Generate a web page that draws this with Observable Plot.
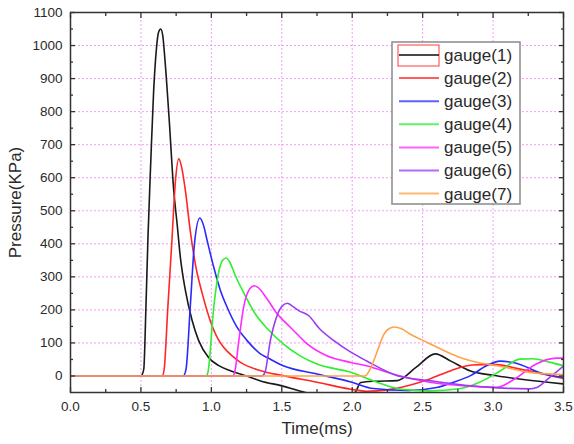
<!DOCTYPE html>
<html><head><meta charset="utf-8">
<script src="https://cdn.jsdelivr.net/npm/d3@7"></script>
<script src="https://cdn.jsdelivr.net/npm/@observablehq/plot@0.6"></script>
<style>
body{margin:0;background:#fff;}
#chart{position:relative;width:574px;height:444px;}
</style>
</head><body><div id="chart"></div>
<script>
const gaugeNames = ["gauge(1)","gauge(2)","gauge(3)","gauge(4)","gauge(5)","gauge(6)","gauge(7)"];
const gaugeColors = ["#1a1a1a","#ff2626","#2a2aff","#2ef02e","#ff2bff","#9a3cf2","#ffa24a"];

const g1Time = [0,0.50,0.52,0.535,0.55,0.57,0.59,0.61,0.625,0.64,0.655,0.67,0.70,0.733,0.757,0.78,0.816,0.864,0.91,0.98,1.05,1.135,1.25,1.35,1.5,1.65,1.8,1.95,2.02,2.06,2.15,2.32,2.45,2.59,2.7,2.84,3.0,3.2,3.5];
const g1Pressure = [0,0,20,200,420,650,860,990,1040,1050,1030,960,780,561,460,359,258,167,107,56,32,16,0,-15,-30,-48,-60,-60,-50,-20,-16,-14,25,67,45,15,2,-10,-24];

const g2Time = [0,0.65,0.665,0.69,0.72,0.745,0.769,0.79,0.816,0.85,0.89,0.935,0.994,1.05,1.087,1.15,1.207,1.35,1.51,1.75,1.99,2.1,2.25,2.4,2.55,2.7,2.85,3.0,3.2,3.5];
const g2Pressure = [0,0,20,200,410,590,657,630,560,440,330,250,165,110,87,60,41,16,1,-19,-40,-46,-42,-29,-9,16,33,35,20,-8];

const g3Time = [0,0.80,0.82,0.85,0.88,0.918,0.945,0.97,1.017,1.065,1.112,1.183,1.254,1.348,1.40,1.51,1.75,1.99,2.15,2.4,2.6,2.72,2.84,2.95,3.05,3.15,3.36,3.5];
const g3Pressure = [0,0,20,208,400,478,455,410,329,258,208,147,107,67,55,31,6,-18,-38,-44,-35,-19,1,30,45,40,6,-4];

const g4Time = [0,0.96,0.975,1.017,1.05,1.08,1.105,1.13,1.17,1.24,1.31,1.40,1.51,1.63,1.75,1.99,2.15,2.35,2.55,2.77,2.9,3.05,3.19,3.28,3.4,3.5];
const g4Pressure = [0,0,10,208,310,350,357,345,304,243,189,142,97,61,36,11,-15,-40,-45,-38,-20,15,51,52,42,31];

const g5Time = [0,1.15,1.165,1.195,1.23,1.27,1.306,1.33,1.396,1.467,1.538,1.585,1.68,1.82,1.99,2.1,2.32,2.55,2.8,3.03,3.15,3.3,3.45,3.5];
const g5Pressure = [0,0,10,107,210,262,273,268,233,188,157,137,97,61,41,31,2,-19,-30,-34,-10,35,54,54];

const g6Time = [0,1.36,1.38,1.42,1.46,1.50,1.538,1.58,1.62,1.69,1.77,1.87,1.99,2.1,2.32,2.55,2.8,3.03,3.26,3.31,3.4,3.5];
const g6Pressure = [0,0,10,110,175,210,220,210,198,183,142,107,72,46,1,-14,-28,-36,-39,-35,-5,30];

const g7Time = [0,2.09,2.12,2.18,2.22,2.26,2.30,2.35,2.41,2.53,2.65,2.77,2.9,3.03,3.26,3.5];
const g7Pressure = [0,0,15,77,122,143,148,143,127,102,77,55,40,31,11,4];

const xMajorTicks = [0,0.5,1,1.5,2,2.5,3,3.5];
const xTickLabels = ["0.0","0.5","1.0","1.5","2.0","2.5","3.0","3.5"];
const xMinorTicks = [0.25,0.75,1.25,1.75,2.25,2.75,3.25];
const xGridTicks = [0.5,1,1.5,2,2.5,3];
const yMajorTicks = [0,100,200,300,400,500,600,700,800,900,1000,1100];
const yMinorTicks = [50,150,250,350,450,550,650,750,850,950,1050];
const yGridTicks = [100,200,300,400,500,600,700,800,900,1000];

const series = [[g1Time,g1Pressure],[g2Time,g2Pressure],[g3Time,g3Pressure],[g4Time,g4Pressure],[g5Time,g5Pressure],[g6Time,g6Pressure],[g7Time,g7Pressure]];
const rows = [];
series.forEach(([ts, ps], i) => ts.forEach((t, j) => rows.push({gauge: gaugeNames[i], t, p: ps[j]})));

const gridStyle = {stroke:"#f27af2", strokeOpacity:0.75, strokeDasharray:"2,2", strokeWidth:1};
const tickStyle = {stroke:"#333", strokeWidth:1.3, label:null, tickFormat:() => ""};

const plot = Plot.plot({
  width:574, height:444,
  marginLeft:70, marginRight:11, marginTop:12, marginBottom:52,
  style:{fontFamily:"'Liberation Sans', Arial, sans-serif", fontSize:"13.5px", color:"#333", background:"#fff"},
  x:{domain:[0,3.5]},
  y:{domain:[-50,1100]},
  color:{domain:gaugeNames, range:gaugeColors},
  marks:[
    Plot.gridX(xGridTicks, gridStyle),
    Plot.gridY(yGridTicks, gridStyle),
    Plot.line(rows, {x:"t", y:"p", z:"gauge", stroke:"gauge", curve:"monotone-x", strokeWidth:1.6, clip:true}),
    Plot.frame({stroke:"#333", strokeWidth:1.5}),
    Plot.axisX(xMajorTicks, {anchor:"bottom", tickSize:0, tickPadding:9, label:null, tickFormat:d => xTickLabels[xMajorTicks.indexOf(d)], fill:"#2a2a2a"}),
    Plot.axisX(xMajorTicks, {anchor:"bottom", tickSize:-5, ...tickStyle}),
    Plot.axisX(xMinorTicks, {anchor:"bottom", tickSize:-3, ...tickStyle}),
    Plot.axisX(xMajorTicks, {anchor:"top", tickSize:-5, ...tickStyle}),
    Plot.axisX(xMinorTicks, {anchor:"top", tickSize:-3, ...tickStyle}),
    Plot.axisY(yMajorTicks, {anchor:"left", tickSize:0, tickPadding:8, label:null, tickFormat:d => String(d), fill:"#2a2a2a"}),
    Plot.axisY(yMajorTicks, {anchor:"left", tickSize:-5, ...tickStyle}),
    Plot.axisY(yMinorTicks, {anchor:"left", tickSize:-3, ...tickStyle}),
    Plot.axisY(yMajorTicks, {anchor:"right", tickSize:-5, ...tickStyle}),
    Plot.axisY(yMinorTicks, {anchor:"right", tickSize:-3, ...tickStyle}),
    Plot.text(["Time(ms)"], {frameAnchor:"bottom", dy:36, fontSize:17, fill:"#2a2a2a", textAnchor:"middle", lineAnchor:"middle"}),
    Plot.text(["Pressure(KPa)"], {frameAnchor:"left", dx:-55, rotate:-90, fontSize:17, fill:"#2a2a2a", textAnchor:"middle", lineAnchor:"middle"})
  ]
});
document.getElementById("chart").appendChild(plot);

// Legend box inside the plot area
const svg = d3.select(plot);
const lg = svg.append("g").attr("transform", "translate(392,42)");
lg.append("rect").attr("width",128).attr("height",162).attr("fill","#fff").attr("stroke","#8a8a8a").attr("stroke-width",1.5);
gaugeNames.forEach((name, i) => {
  const cy = 13 + i * 23.1;
  if (i === 0) {
    lg.append("rect").attr("x",6).attr("y",cy-10).attr("width",41).attr("height",21).attr("fill","none").attr("stroke","#ff5a5a").attr("stroke-width",1.2);
  }
  lg.append("line").attr("x1",7).attr("x2",47).attr("y1",cy).attr("y2",cy).attr("stroke",gaugeColors[i]).attr("stroke-width",2).attr("stroke-opacity", i === 0 ? 0.8 : 0.75);
  lg.append("text").attr("x",52).attr("y",cy).attr("dy","0.35em").attr("text-anchor","start").attr("font-size",17).attr("fill","#2a2a2a").attr("font-family","'Liberation Sans', Arial, sans-serif").text(name);
});
</script>
</body></html>
